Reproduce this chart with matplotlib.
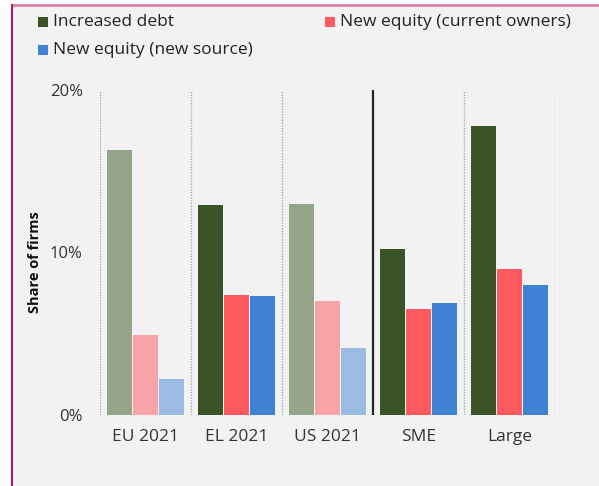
import matplotlib
matplotlib.use("Agg")
import matplotlib.pyplot as plt
from matplotlib.patches import Rectangle
from matplotlib.lines import Line2D
import numpy as np

plt.rcParams['font.family'] = ['Open Sans', 'DejaVu Sans']

categories = ["EU 2021", "EL 2021", "US 2021", "SME", "Large"]
series_names = ["Increased debt", "New equity (current owners)", "New equity (new source)"]
increased_debt = [16.3, 12.9, 13.0, 10.2, 17.8]
equity_current = [4.9, 7.4, 7.0, 6.5, 9.0]
equity_new = [2.2, 7.3, 4.1, 6.9, 8.0]
y_ticks = [0, 10, 20]
y_tick_labels = ["0%", "10%", "20%"]

strong = ["#3b5427", "#ff5a5f", "#3f82d4"]
faded = ["#96a48a", "#f8a3a8", "#9bbbe2"]
faded_groups = {"EU 2021", "US 2021"}

W, H = 599, 486
fig = plt.figure(figsize=(W / 100, H / 100), dpi=100)
fig.patch.set_facecolor("white")

# panel background and border
fig.patches.append(Rectangle((12 / W, 0), 1 - 12 / W, (H - 5) / H, transform=fig.transFigure,
                             facecolor="#f2f2f2", edgecolor="none", zorder=-5))
fig.lines.append(Line2D([12 / W, 1], [(H - 5) / H, (H - 5) / H], transform=fig.transFigure,
                        color="#d882a8", lw=2, zorder=-4))
fig.lines.append(Line2D([12 / W, 12 / W], [0, (H - 5) / H], transform=fig.transFigure,
                        color="#b0186c", lw=1.5, zorder=-4))

ax = fig.add_axes([100 / W, (H - 415) / H, (555 - 100) / W, (415 - 90) / H])
ax.set_facecolor("none")
ax.set_zorder(1)

x = np.arange(len(categories))
width = 0.275
offset = 0.285
data = [increased_debt, equity_current, equity_new]
for i, vals in enumerate(data):
    cols = [faded[i] if c in faded_groups else strong[i] for c in categories]
    ax.bar(x + (i - 1) * offset, vals, width, color=cols, edgecolor="none", zorder=3)

for xv in [-0.5, 0.5, 1.5, 3.5, 4.5]:
    ax.plot([xv, xv], [0, 20], color="#a8a8a8", lw=1, linestyle=(0, (1, 1)), zorder=1)
ax.plot([2.5, 2.5], [0, 20], color="#222222", lw=1.6, zorder=2)

ax.set_xlim(-0.5, 4.5)
ax.set_ylim(0, 20)
ax.set_yticks(y_ticks)
ax.set_yticklabels(y_tick_labels, fontsize=12, color="#333333")
ax.set_xticks(x)
ax.set_xticklabels(categories, fontsize=12.5, color="#333333")
ax.tick_params(axis='y', length=0, pad=12.5)
ax.tick_params(axis='x', length=0, pad=10)
for s in ax.spines.values():
    s.set_visible(False)

fig.text(35 / W, 1 - 262 / H, "Share of firms", rotation=90, ha="center", va="center",
         fontsize=10.5, fontweight="bold", color="#111111")

# legend
legend_items = [(38, 22, strong[0], series_names[0]),
                (325, 22, strong[1], series_names[1]),
                (38, 50, strong[2], series_names[2])]
for lx, ly, col, name in legend_items:
    fig.patches.append(Rectangle((lx / W, 1 - (ly + 5) / H), 10 / W, 10 / H,
                                 transform=fig.transFigure, facecolor=col, edgecolor="none"))
    fig.text((lx + 15) / W, 1 - ly / H, name, ha="left", va="center", fontsize=12.5, color="#222222")

fig.savefig("out.png", dpi=100, facecolor=fig.get_facecolor())
